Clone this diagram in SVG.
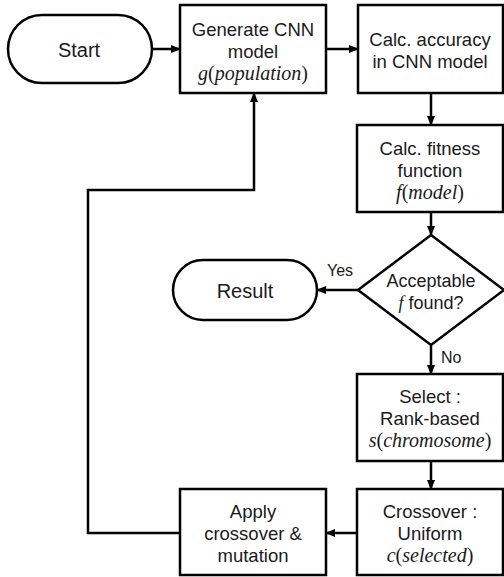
<svg xmlns="http://www.w3.org/2000/svg" width="504" height="577" viewBox="0 0 504 577">
<defs>
<marker id="ah" markerUnits="userSpaceOnUse" markerWidth="10" markerHeight="10" viewBox="0 0 10 10" refX="9" refY="5" orient="auto">
<path d="M0,1 L10,5 L0,9 Z" fill="#000"/>
</marker>
<style>
.box{fill:#fff;stroke:#000;stroke-width:2.5}
.t{font-family:"Liberation Sans",Arial,sans-serif;font-size:18.5px;fill:#1a1a1a;text-anchor:middle}
.big{font-size:20px}
.m{font-family:"Liberation Serif",serif;font-size:20px;font-style:italic;fill:#1a1a1a;text-anchor:middle}
.u{font-style:normal}
.a{font-family:"Liberation Sans",Arial,sans-serif;font-size:18px;fill:#1a1a1a;text-anchor:middle}
.l{font-family:"Liberation Sans",Arial,sans-serif;font-size:16px;fill:#1a1a1a}
.c{fill:none;stroke:#000;stroke-width:2.5;marker-end:url(#ah)}
</style>
</defs>
<rect width="504" height="577" fill="#fff"/>
<g id="connectors">
<path class="c" d="M152,49 H180"/>
<path class="c" d="M326,49 H358"/>
<path class="c" d="M431,93 V125"/>
<path class="c" d="M431,212 V235"/>
<path class="c" d="M358,290 H317"/>
<path class="c" d="M431,345 V374"/>
<path class="c" d="M431,461 V489"/>
<path class="c" d="M357,533 H326"/>
<path class="c" d="M180,533 H88 V190 H254 V93"/>
<text class="l" x="327" y="276">Yes</text>
<text class="l" x="441" y="363">No</text>
</g>
<g id="start">
<rect class="box" x="8" y="15" width="144" height="68" rx="34"/>
<text class="t big" x="79" y="57">Start</text>
</g>
<g id="generate">
<rect class="box" x="180" y="5" width="146" height="88"/>
<text class="t" x="253" y="36">Generate CNN</text>
<text class="t" x="253" y="58">model</text>
<text class="m" x="253" y="80">g<tspan class="u">(</tspan>population<tspan class="u">)</tspan></text>
</g>
<g id="accuracy">
<rect class="box" x="358" y="5" width="145" height="88"/>
<text class="t" x="430" y="46">Calc. accuracy</text>
<text class="t" x="430" y="68">in CNN model</text>
</g>
<g id="fitness">
<rect class="box" x="357" y="125" width="146" height="87"/>
<text class="t" x="430" y="155">Calc. fitness</text>
<text class="t" x="430" y="177">function</text>
<text class="m" x="430" y="199">f<tspan class="u">(</tspan>model<tspan class="u">)</tspan></text>
</g>
<g id="decision">
<path class="box" d="M431,235 L504,290 L431,345 L358,290 Z"/>
<text class="a" x="431" y="287">Acceptable</text>
<text class="a" x="431" y="309"><tspan font-family="Liberation Serif,serif" font-style="italic">f</tspan> found?</text>
</g>
<g id="result">
<rect class="box" x="173" y="260" width="144" height="60" rx="30"/>
<text class="t big" x="245" y="298">Result</text>
</g>
<g id="select">
<rect class="box" x="357" y="374" width="146" height="87"/>
<text class="t" x="430" y="403">Select :</text>
<text class="t" x="430" y="425">Rank-based</text>
<text class="m" x="430" y="447">s<tspan class="u">(</tspan>chromosome<tspan class="u">)</tspan></text>
</g>
<g id="crossover">
<rect class="box" x="357" y="489" width="146" height="86"/>
<text class="t" x="430" y="518">Crossover :</text>
<text class="t" x="430" y="540">Uniform</text>
<text class="m" x="430" y="562">c<tspan class="u">(</tspan>selected<tspan class="u">)</tspan></text>
</g>
<g id="apply">
<rect class="box" x="180" y="489" width="146" height="86"/>
<text class="t" x="253" y="518">Apply</text>
<text class="t" x="253" y="540">crossover &amp;</text>
<text class="t" x="253" y="562">mutation</text>
</g>
</svg>
